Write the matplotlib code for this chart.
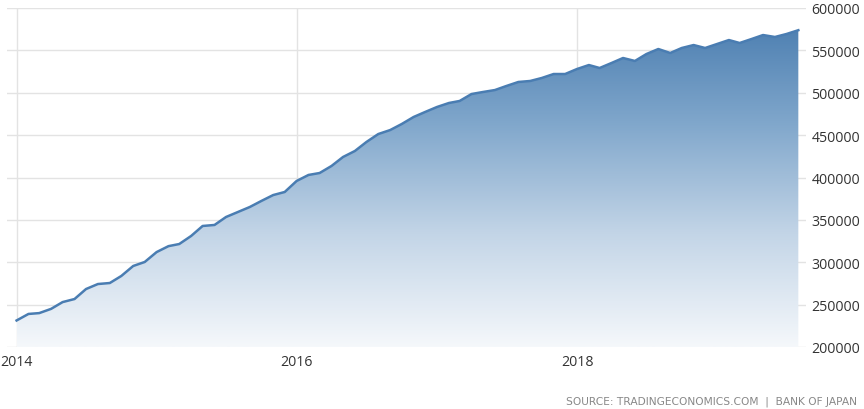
import numpy as np
import pandas as pd
import matplotlib
matplotlib.use("Agg")
import matplotlib.pyplot as plt
import matplotlib.dates as mdates
from matplotlib.colors import LinearSegmentedColormap

# Monthly values, Jan 2014 .. Aug 2019
months = pd.date_range("2014-01-01", "2019-08-01", freq="MS")
values = [
    231300, 239000, 240000, 245000, 253000, 256600, 268400, 274300, 275500, 283800, 295600, 300300,  # 2014
    312000, 319000, 321500, 331000, 342800, 344000, 353400, 359300, 365200, 372300, 379300, 382900,  # 2015
    395900, 403000, 405300, 413600, 424200, 431300, 441900, 451300, 456000, 463100, 471400, 477300,  # 2016
    483200, 487900, 490300, 498500, 500900, 503200, 508000, 512700, 513900, 517400, 522100, 522100,  # 2017
    528000, 532700, 529200, 535100, 541000, 537500, 545700, 551600, 546900, 552800, 556300, 552800,  # 2018
    557500, 562200, 558700, 563400, 568100, 565800, 569300, 573800,                                  # 2019
]
yticks = [200000, 250000, 300000, 350000, 400000, 450000, 500000, 550000, 600000]
xtick_years = ["2014", "2016", "2018"]
source_text = "SOURCE: TRADINGECONOMICS.COM  |  BANK OF JAPAN"

plt.rcParams["font.family"] = ["Open Sans", "DejaVu Sans"]

fig = plt.figure(figsize=(8.64, 4.10), dpi=100)
ax = fig.add_axes([7 / 864, 62 / 410, 799 / 864, 339 / 410])

x = mdates.date2num(months)
y = np.array(values)

ax.set_ylim(200000, 600000)
ax.set_xlim(mdates.date2num(pd.Timestamp("2013-12-07")),
            mdates.date2num(pd.Timestamp("2019-08-21")))

# gradient fill clipped to the area under the line
cmap = LinearSegmentedColormap.from_list(
    "te", ["#f5f8fb", "#c3d5e7", "#7fa6cb", "#4579ad"])
grad = np.linspace(0, 1, 256).reshape(-1, 1)
poly = ax.fill_between(x, y, 200000, color="none", lw=0)
img = ax.imshow(grad, cmap=cmap, aspect="auto", origin="lower",
                extent=[x[0], x[-1], 200000, 600000], zorder=1)
img.set_clip_path(poly.get_paths()[0], transform=ax.transData)

ax.plot(x, y, color="#4a7db2", lw=1.8, zorder=3, solid_joinstyle="round")

# grid and ticks
ax.set_yticks(yticks)
ax.set_yticklabels([str(v) for v in yticks])
ax.yaxis.tick_right()
ax.set_xticks([mdates.date2num(pd.Timestamp(f"{yr}-01-01")) for yr in xtick_years])
ax.set_xticklabels(xtick_years)
ax.grid(True, color="#e3e3e3", lw=1, zorder=0)
ax.set_axisbelow(True)
ax.tick_params(axis="both", length=0, labelsize=10.2, colors="#333333")
ax.tick_params(axis="y", pad=4)
ax.tick_params(axis="x", pad=5)
for s in ax.spines.values():
    s.set_visible(False)

fig.text(1 - 7 / 864, 3 / 410, source_text, ha="right", va="bottom",
         fontsize=7.7, color="#888888", family="DejaVu Sans")

fig.savefig("out.png", dpi=100, facecolor="white")
